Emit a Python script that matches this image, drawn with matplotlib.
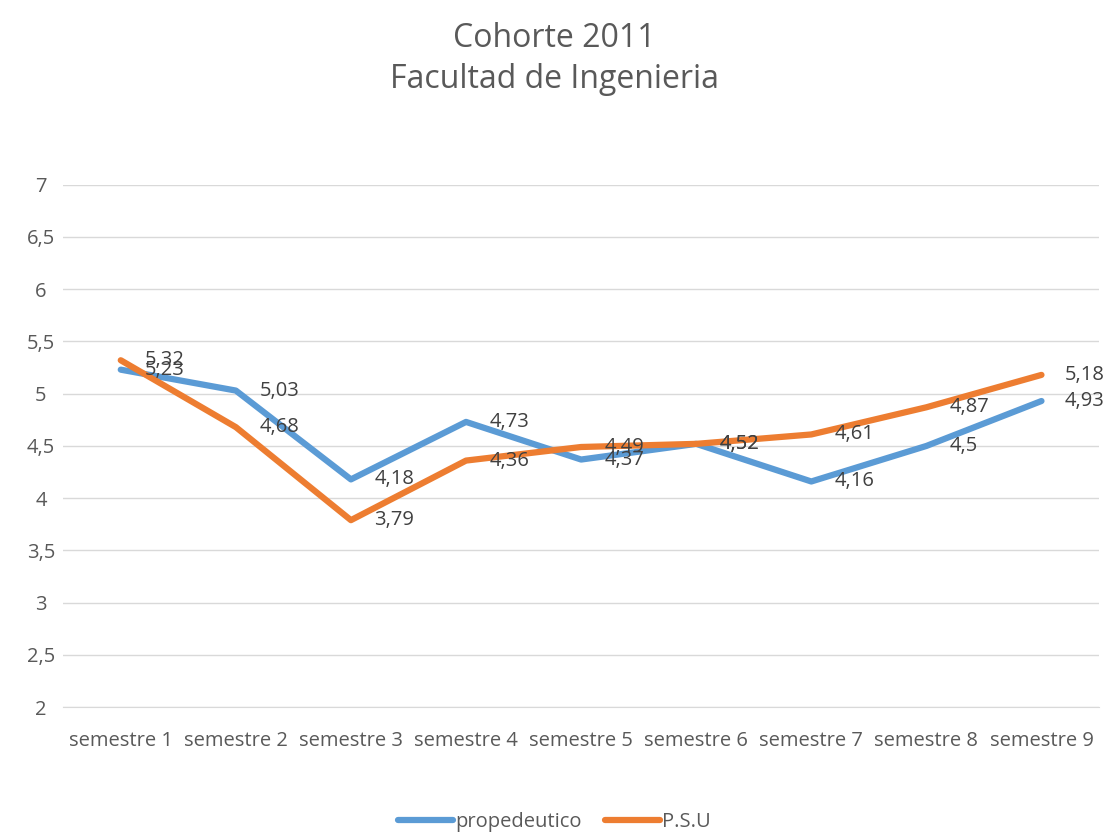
import matplotlib
matplotlib.use("Agg")
import matplotlib.pyplot as plt

# data
categories = ["semestre 1", "semestre 2", "semestre 3", "semestre 4", "semestre 5",
              "semestre 6", "semestre 7", "semestre 8", "semestre 9"]
propedeutico = [5.23, 5.03, 4.18, 4.73, 4.37, 4.52, 4.16, 4.5, 4.93]
psu = [5.32, 4.68, 3.79, 4.36, 4.49, 4.52, 4.61, 4.87, 5.18]
yticks = [2, 2.5, 3, 3.5, 4, 4.5, 5, 5.5, 6, 6.5, 7]

plt.rcParams['font.family'] = ['Open Sans', 'DejaVu Sans']
text_col = '#595959'
blue = '#5B9BD5'
orange = '#ED7D31'


def fmt(v):
    return ('%g' % v).replace('.', ',')


fig = plt.figure(figsize=(11.09, 8.32), dpi=100)
ax = fig.add_axes([0.057, 0.150, 0.934, 0.628])

x = list(range(len(categories)))
ax.plot(x, propedeutico, color=blue, lw=4.5, solid_capstyle='round', label='propedeutico', zorder=3)
ax.plot(x, psu, color=orange, lw=4.5, solid_capstyle='round', label='P.S.U', zorder=3)

# data labels to the right of each point
for xi, v in zip(x, propedeutico):
    ax.annotate(fmt(v), (xi, v), xytext=(17, 0), textcoords='offset points',
                va='center', ha='left', fontsize=14.5, color='#404040', zorder=4)
for xi, v in zip(x, psu):
    ax.annotate(fmt(v), (xi, v), xytext=(17, 0), textcoords='offset points',
                va='center', ha='left', fontsize=14.5, color='#404040', zorder=4)

ax.set_xlim(-0.5, len(categories) - 0.5)
ax.set_ylim(2, 7)
ax.set_yticks(yticks)
ax.set_yticklabels([fmt(t) for t in yticks], ha='center')
ax.set_xticks(x)
ax.set_xticklabels(categories)
ax.tick_params(axis='both', length=0, labelsize=14.5, colors=text_col)
ax.tick_params(axis='x', pad=17)
ax.tick_params(axis='y', pad=16)
ax.grid(axis='y', color='#D9D9D9', lw=1)
ax.set_axisbelow(True)
for s in ['top', 'right', 'left']:
    ax.spines[s].set_visible(False)
ax.spines['bottom'].set_color('#D9D9D9')

fig.text(0.5, 0.973, "Cohorte 2011\nFacultad de Ingenieria", ha='center', va='top',
         fontsize=23, color=text_col, linespacing=1.3)

fig.legend(loc='lower center', bbox_to_anchor=(0.5, -0.022), ncol=2, frameon=False,
           fontsize=14.5, labelcolor=text_col, handlelength=2.7, handletextpad=0.1,
           columnspacing=1.2)

fig.savefig("out.png", dpi=100)
